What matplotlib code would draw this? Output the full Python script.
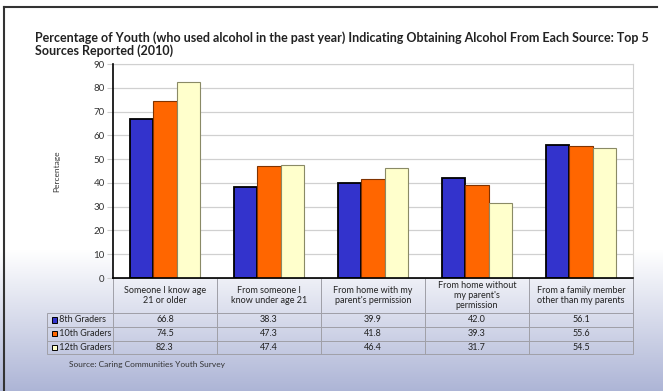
import matplotlib
matplotlib.use('Agg')
import matplotlib.pyplot as plt
import numpy as np
from matplotlib.patches import Rectangle
from matplotlib.lines import Line2D

plt.rcParams['font.family'] = ['Lato', 'DejaVu Sans']

# -- data --
sources = ['Someone I know age\n21 or older',
           'From someone I\nknow under age 21',
           'From home with my\nparent\'s permission',
           'From home without\nmy parent\'s\npermission',
           'From a family member\nother than my parents']
grades = ['8th Graders', '10th Graders', '12th Graders']
grade8 = [66.8, 38.3, 39.9, 42.0, 56.1]
grade10 = [74.5, 47.3, 41.8, 39.3, 55.6]
grade12 = [82.3, 47.4, 46.4, 31.7, 54.5]
colors = ['#3333cc', '#ff6600', '#ffffcc']
edges = ['#000000', '#803300', '#8a8a66']

W, H = 663, 391
fig = plt.figure(figsize=(W / 100, H / 100), dpi=100)

# background gradient, white fading to lavender at the bottom
bg = fig.add_axes([0, 0, 1, 1], zorder=-10)
bg.set_axis_off()
ys = np.linspace(0, 1, 400)
grad = np.clip((ys - 0.64) / 0.36, 0, 1)
top = np.array([1.0, 1.0, 1.0])
bot = np.array([0.68, 0.71, 0.84])
img = top[None, :] * (1 - grad[:, None]) + bot[None, :] * grad[:, None]
bg.imshow(img[:, None, :].repeat(2, axis=1), aspect='auto', extent=[0, 1, 1, 0])
bg.set_xlim(0, 1)
bg.set_ylim(1, 0)
# frame lines
bg.add_line(Line2D([4 / W, 657 / W], [7 / H, 7 / H], color='#333333', lw=1.5))
bg.add_line(Line2D([4 / W, 4 / W], [7 / H, 1], color='#333333', lw=1.5))

# chart axes (pixel box)
x0, x1, y0, y1 = 113, 633, 278, 64
aw, ah = x1 - x0, y0 - y1
ax = fig.add_axes([x0 / W, 1 - y0 / H, aw / W, ah / H])
ax.set_facecolor('white')
x = np.arange(len(sources))
bw = 0.225
for i, vals in enumerate([grade8, grade10, grade12]):
    ax.bar(x + (i - 1) * bw, vals, bw, color=colors[i], edgecolor=edges[i],
           linewidth=1.3 if i == 0 else 0.8, zorder=3)
ax.set_xlim(-0.5, len(sources) - 0.5)
ax.set_ylim(0, 90)
ax.set_yticks(range(0, 91, 10))
ax.set_xticks([])
ax.tick_params(axis='y', length=4, color='#cccccc', labelsize=7, labelcolor='#333333', pad=2)
ax.grid(axis='y', color='#d0d0d0', lw=0.9, zorder=0)
for s in ['top', 'right']:
    ax.spines[s].set_color('#d0d0d0')
for s in ['left', 'bottom']:
    ax.spines[s].set_color('black')
    ax.spines[s].set_linewidth(1.2)
    ax.spines[s].set_zorder(5)
ax.set_ylabel('Percentage', fontsize=6, color='#333333', labelpad=24)

# data table (sizes in axes fraction so the bbox needs no rescale)
head_h, row_h, lab_w, col_w = 35, 13.8, 65, 104
cell_text = [['%.1f' % v for v in row] for row in [grade8, grade10, grade12]]
tab_h = head_h + 3 * row_h
tbl = ax.table(cellText=cell_text, rowLabels=['     ' + g for g in grades],
               colLabels=sources, cellLoc='center', rowLoc='left',
               bbox=[0, -tab_h / ah, 1, tab_h / ah])
tbl.auto_set_font_size(False)
for (r, c), cell in tbl.get_celld().items():
    cell.set_facecolor('none')
    cell.set_edgecolor('#a0a0a8')
    cell.set_linewidth(0.7)
    cell.get_text().set_fontsize(6.5)
    cell.get_text().set_color('#222222')
    cell.set_width((lab_w if c == -1 else col_w) / aw)
    cell.set_height((head_h if r == 0 else row_h) / ah)
    if c == -1:
        cell.PAD = 0.02

# legend keys inside the row label cells
for i in range(3):
    cy = y0 + head_h + row_h * (i + 0.5)
    fig.patches.append(Rectangle(((x0 - lab_w + 3.5) / W, 1 - (cy + 2.6) / H), 5.2 / W, 5.2 / H,
                                 transform=fig.transFigure, facecolor=colors[i],
                                 edgecolor='black', lw=0.7, zorder=10))

fig.text(35 / W, 1 - 31 / H,
         'Percentage of Youth (who used alcohol in the past year) Indicating Obtaining Alcohol From Each Source: Top 5\nSources Reported (2010)',
         fontsize=9, fontweight='bold', color='#222222', va='top', ha='left', linespacing=1.1)
fig.text(69 / W, 1 - 364 / H, 'Source: Caring Communities Youth Survey',
         fontsize=6, color='#333333', va='center', ha='left')

fig.savefig('out.png', dpi=100)
